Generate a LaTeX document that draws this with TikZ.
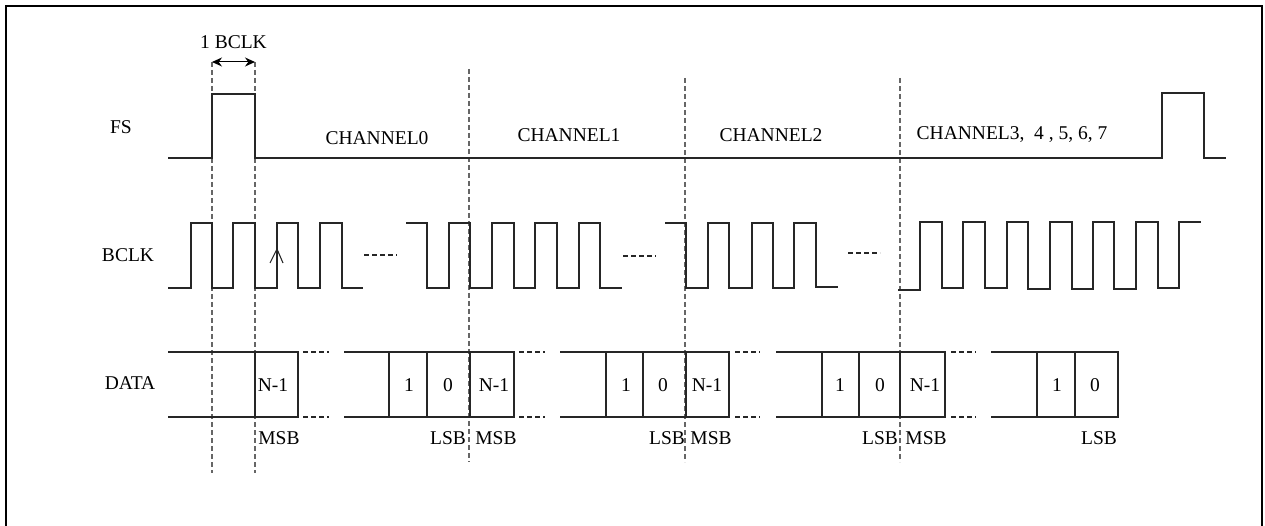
\documentclass[tikz,border=0pt]{standalone}
\usepackage{fontspec}
\setmainfont{Liberation Serif}
\usetikzlibrary{arrows.meta}
\begin{document}
\begin{tikzpicture}[x=1pt,y=-1pt,
  sig/.style={line width=1.1pt, black!85},
  dsh/.style={line width=1.1pt, black!85, dash pattern=on 5pt off 3pt},
  guide/.style={line width=1.2pt, black!60, dash pattern=on 5pt off 3pt},
  lbl/.style={font=\fontsize{19.5}{21}\selectfont, inner sep=0pt},
  frame/.style={line width=2.4pt}]
\useasboundingbox (0,0) rectangle (1265,526);
% frame
\draw[frame] (6,540) -- (6,6) -- (1262,6) -- (1262,540);

% guides
\draw[guide] (212,62) -- (212,473);
\draw[guide] (255,62) -- (255,473);
\draw[guide] (469,69) -- (469,462);
\draw[guide] (685,78) -- (685,462);
\draw[guide] (900,78) -- (900,462);

% 1 BCLK
\coordinate (bl) at (212,62);
\coordinate (br) at (255,62);
\draw[{Stealth[length=10pt,width=9pt]}-{Stealth[length=10pt,width=9pt]}, line width=1pt] (bl) -- (br);
\node[lbl] (onebclk) at (233.5,42) {1 BCLK};

% signal labels
\node[lbl] (fs) at (121,127) {FS};
\node[lbl] (bclk) at (128,255) {BCLK};
\node[lbl] (data) at (130,383) {DATA};

% channel labels
\node[lbl] (ch0) at (377,138) {CHANNEL0};
\node[lbl] (ch1) at (569,135) {CHANNEL1};
\node[lbl] (ch2) at (771,135) {CHANNEL2};
\node[lbl] (ch3) at (1012,135) {CHANNEL3,\ \ 4 , 5, 6, 7};

% FS
\draw[sig] (168,158) -- (212,158) -- (212,94) -- (255,94) -- (255,158) -- (1162,158) -- (1162,93) -- (1204,93) -- (1204,158) -- (1226,158);

% BCLK
\draw[sig] (168,288) -| (191,223) -| (212,288) -| (233,223) -| (255,288) -| (277,223) -| (298,288) -| (320,223) -| (342,288) -- (363,288);
\draw[sig] (270,263) -- (277,249) -- (283,263);
\draw[dsh] (364,255) -- (397,255);
\draw[sig] (406,223) -| (427,288) -| (449,223) -| (470,288) -| (492,223) -| (514,288) -| (535,223) -| (557,288) -| (579,223) -| (600,288) -- (622,288);
\draw[dsh] (623,256) -- (656,256);
\draw[sig] (665,223) -| (686,288) -| (708,223) -| (729,288) -| (752,223) -| (773,288) -| (794,223) -| (816,287) -- (838,287);
\draw[dsh] (848,253) -- (880,253);
\draw[sig] (898,290) -| (920,222) -| (942,288) -| (963,222) -| (985,288) -| (1007,222) -| (1028,289) -| (1050,222) -| (1072,289) -| (1093,222) -| (1114,289) -| (1136,222) -| (1158,288) -| (1179,222) -- (1201,222);

% DATA
\draw[sig] (168,352) -- (298,352) -- (298,417) -- (168,417);
\draw[sig] (255,352) -- (255,417);
\draw[dsh] (303,352) -- (329,352);
\draw[dsh] (303,417) -- (329,417);

\draw[sig] (344,352) -- (514,352) -- (514,417) -- (344,417);
\draw[sig] (389,352) -- (389,417);
\draw[sig] (427,352) -- (427,417);
\draw[sig] (470,352) -- (470,417);
\draw[dsh] (519,352) -- (545,352);
\draw[dsh] (519,417) -- (545,417);

\draw[sig] (560,352) -- (729,352) -- (729,417) -- (560,417);
\draw[sig] (606,352) -- (606,417);
\draw[sig] (643,352) -- (643,417);
\draw[sig] (686,352) -- (686,417);
\draw[dsh] (735,352) -- (760,352);
\draw[dsh] (735,417) -- (760,417);

\draw[sig] (776,352) -- (945,352) -- (945,417) -- (776,417);
\draw[sig] (822,352) -- (822,417);
\draw[sig] (859,352) -- (859,417);
\draw[sig] (900,352) -- (900,417);
\draw[dsh] (951,352) -- (976,352);
\draw[dsh] (951,417) -- (976,417);

\draw[sig] (991,352) -- (1118,352) -- (1118,417) -- (991,417);
\draw[sig] (1037,352) -- (1037,417);
\draw[sig] (1075,352) -- (1075,417);

% bit texts
\node[lbl] (n1a) at (273,385) {N-1};
\node[lbl] (n1b) at (494,385) {N-1};
\node[lbl] (n1c) at (707,385) {N-1};
\node[lbl] (n1d) at (925,385) {N-1};
\node[lbl] (b1a) at (409,385) {1};
\node[lbl] (b0a) at (448,385) {0};
\node[lbl] (b1b) at (626,385) {1};
\node[lbl] (b0b) at (663,385) {0};
\node[lbl] (b1c) at (840,385) {1};
\node[lbl] (b0c) at (880,385) {0};
\node[lbl] (b1d) at (1057,385) {1};
\node[lbl] (b0d) at (1095,385) {0};

% MSB / LSB
\node[lbl] (msba) at (279,438) {MSB};
\node[lbl] (lsba) at (448,438) {LSB};
\node[lbl] (msbb) at (496,438) {MSB};
\node[lbl] (lsbb) at (667,438) {LSB};
\node[lbl] (msbc) at (711,438) {MSB};
\node[lbl] (lsbc) at (880,438) {LSB};
\node[lbl] (msbd) at (926,438) {MSB};
\node[lbl] (lsbd) at (1099,438) {LSB};
\end{tikzpicture}
\end{document}
